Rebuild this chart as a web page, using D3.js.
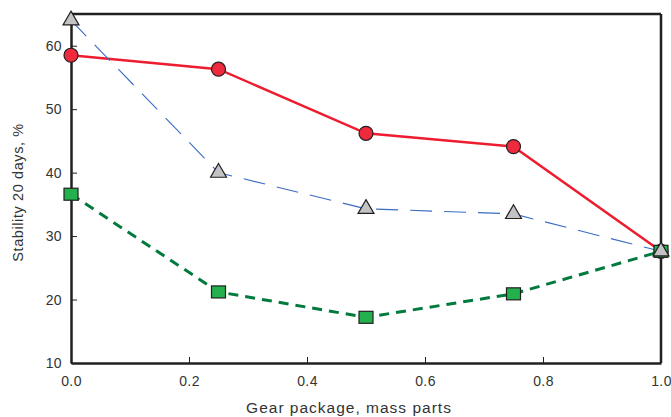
<!DOCTYPE html>
<html>
<head>
<meta charset="utf-8">
<script src="https://cdn.jsdelivr.net/npm/d3@7"></script>
<style>
  body { margin: 0; background: #fff; }
  text { font-family: "Liberation Sans", Arial, sans-serif; fill: #333; }
</style>
</head>
<body>
<svg id="chart"></svg>
<script>
// Data
var xs = [0, 0.25, 0.5, 0.75, 1.0];
var redVals = [58.5, 56.3, 46.2, 44.1, 27.6];
var grayVals = [64.0, 40.0, 34.3, 33.5, 27.6];
var greenVals = [36.6, 21.2, 17.2, 20.9, 27.6];
var xTicks = [0, 0.2, 0.4, 0.6, 0.8, 1.0];
var yTicks = [10, 20, 30, 40, 50, 60];

var width = 671, height = 417;
var margin = {top: 14, right: 10, bottom: 54, left: 71};
var w = width - margin.left - margin.right;
var h = height - margin.top - margin.bottom;

var svg = d3.select("#chart")
    .attr("width", width)
    .attr("height", height)
  .append("g")
    .attr("transform", "translate(" + margin.left + "," + margin.top + ")");

var x = d3.scaleLinear().domain([0, 1]).range([0, w]);
var y = d3.scaleLinear().domain([10, 65]).range([h, 0]);

var axisColor = "#231f20";

// Frame: top and right borders
svg.append("line")
    .attr("x1", 0).attr("x2", w).attr("y1", 0).attr("y2", 0)
    .attr("stroke", axisColor).attr("stroke-width", 2.5);
svg.append("line")
    .attr("x1", w).attr("x2", w).attr("y1", 0).attr("y2", h)
    .attr("stroke", axisColor).attr("stroke-width", 2.5);

// Axes with inward ticks
var xAxis = d3.axisBottom(x).tickValues(xTicks).tickFormat(d3.format(".1f"))
    .tickSizeInner(-6).tickSizeOuter(0).tickPadding(13);
var yAxis = d3.axisLeft(y).tickValues(yTicks)
    .tickSizeInner(-6).tickSizeOuter(0).tickPadding(9);

var gx = svg.append("g")
    .attr("transform", "translate(0," + h + ")")
    .call(xAxis);
var gy = svg.append("g").call(yAxis);

[gx, gy].forEach(function(g) {
  g.select(".domain").attr("stroke", axisColor).attr("stroke-width", 2.5);
  g.selectAll(".tick line").attr("stroke", axisColor).attr("stroke-width", 1);
  g.selectAll(".tick text").style("font-size", "14px").attr("fill", "#333")
    .style("letter-spacing", "0.4px")
    .style("font-family", "'Liberation Sans', Arial, sans-serif");
});

// Axis titles
svg.append("text")
    .attr("x", w / 2 - 17)
    .attr("y", h + 50)
    .attr("text-anchor", "middle")
    .style("font-size", "15.5px")
    .style("letter-spacing", "1px")
    .text("Gear package, mass parts");

svg.append("text")
    .attr("transform", "translate(" + (-48) + "," + (h / 2 + 4) + ") rotate(-90)")
    .attr("text-anchor", "middle")
    .style("font-size", "14.5px")
    .style("letter-spacing", "0.6px")
    .text("Stability 20 days, %");

var line = d3.line()
    .x(function(d) { return x(d[0]); })
    .y(function(d) { return y(d[1]); });

function pairs(vals) {
  return xs.map(function(v, i) { return [v, vals[i]]; });
}

// Red series
svg.append("path")
    .datum(pairs(redVals))
    .attr("d", line)
    .attr("fill", "none")
    .attr("stroke", "#ed1c2e")
    .attr("stroke-width", 2.5);

// Green series
svg.append("path")
    .datum(pairs(greenVals))
    .attr("d", line)
    .attr("fill", "none")
    .attr("stroke", "#007a3d")
    .attr("stroke-width", 3)
    .attr("stroke-dasharray", "10,7");

// Blue dashed (triangles)
svg.append("path")
    .datum(pairs(grayVals))
    .attr("d", line)
    .attr("fill", "none")
    .attr("stroke", "#3a6cc4")
    .attr("stroke-width", 1.1)
    .attr("stroke-dasharray", "22,12");

// Markers
svg.selectAll(".circ")
  .data(pairs(redVals))
  .enter().append("circle")
    .attr("cx", function(d) { return x(d[0]); })
    .attr("cy", function(d) { return y(d[1]); })
    .attr("r", 7)
    .attr("fill", "#ee2a3c")
    .attr("stroke", "#231f20")
    .attr("stroke-width", 1.2);

svg.selectAll(".sq")
  .data(pairs(greenVals))
  .enter().append("rect")
    .attr("x", function(d) { return x(d[0]) - 7; })
    .attr("y", function(d) { return y(d[1]) - 6; })
    .attr("width", 14)
    .attr("height", 12)
    .attr("fill", "#22b14c")
    .attr("stroke", "#231f20")
    .attr("stroke-width", 1.2);

var tri = d3.symbol().type(d3.symbolTriangle).size(110);
svg.selectAll(".tri")
  .data(pairs(grayVals))
  .enter().append("path")
    .attr("d", tri)
    .attr("transform", function(d) { return "translate(" + x(d[0]) + "," + y(d[1]) + ")"; })
    .attr("fill", "#c3c3c3")
    .attr("stroke", "#231f20")
    .attr("stroke-width", 1.2);
</script>
</body>
</html>
